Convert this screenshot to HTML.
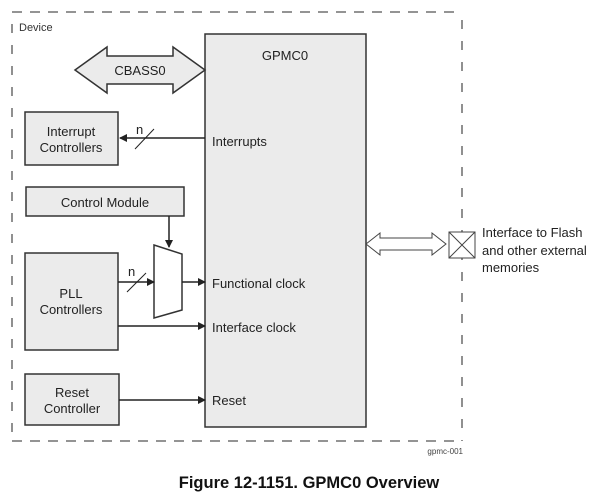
<!DOCTYPE html>
<html><head><style>body{margin:0;background:#fff}svg{display:block}</style></head><body>
<svg width="604" height="500" xmlns="http://www.w3.org/2000/svg" font-family="Liberation Sans, sans-serif">
<defs><marker id="a" markerWidth="8" markerHeight="8" refX="7" refY="4" orient="auto" markerUnits="userSpaceOnUse"><path d="M0,0 L8,4 L0,8 z" fill="#222"/></marker></defs>
<g stroke="#555" stroke-width="1.3" stroke-dasharray="10,8" fill="none">
<line x1="12" y1="12" x2="462" y2="12"/><line x1="12" y1="441" x2="462" y2="441"/>
<line x1="12" y1="24" x2="12" y2="441" stroke-dasharray="9,12"/><line x1="462" y1="20" x2="462" y2="441" stroke-dasharray="9,12"/>
</g>
<text x="19" y="31" font-size="11" fill="#333">Device</text>
<g stroke="#333" stroke-width="1.5" fill="#ebebeb">
<rect x="205" y="34" width="161" height="393"/>
<path d="M75,70 L107,47 L107,56 L173,56 L173,47 L205,70 L173,93 L173,84 L107,84 L107,93 Z"/>
<rect x="25" y="112" width="93" height="53"/>
<rect x="26" y="187" width="158" height="29"/>
<rect x="25" y="253" width="93" height="97"/>
<rect x="25" y="374" width="94" height="51"/>
<path d="M154,245 L182,254 L182,310 L154,318 Z" fill="#fff"/>
</g>
<g stroke="#222" stroke-width="1.5" fill="none">
<line x1="205" y1="138" x2="120" y2="138" marker-end="url(#a)"/>
<line x1="169" y1="216" x2="169" y2="247" marker-end="url(#a)"/>
<line x1="118" y1="282" x2="154" y2="282" marker-end="url(#a)"/>
<line x1="182" y1="282" x2="205" y2="282" marker-end="url(#a)"/>
<line x1="118" y1="326" x2="205" y2="326" marker-end="url(#a)"/>
<line x1="119" y1="400" x2="205" y2="400" marker-end="url(#a)"/>
<line x1="135" y1="149" x2="154" y2="129" stroke-width="1"/>
<line x1="127" y1="292" x2="146" y2="273" stroke-width="1"/>
</g>
<path d="M366,244 L380,233 L380,238 L432,238 L432,233 L446,244 L432,255 L432,250 L380,250 L380,255 Z" fill="#fff" stroke="#444" stroke-width="1"/>
<rect x="449" y="232" width="26" height="26" fill="#fff" stroke="#444" stroke-width="1"/>
<path d="M449,232 L475,258 M475,232 L449,258" stroke="#444" stroke-width="1"/>
<g font-size="13" fill="#222">
<text x="285" y="60" text-anchor="middle">GPMC0</text>
<text x="140" y="75" text-anchor="middle">CBASS0</text>
<text x="71" y="136" text-anchor="middle">Interrupt</text>
<text x="71" y="152" text-anchor="middle">Controllers</text>
<text x="105" y="207" text-anchor="middle">Control Module</text>
<text x="71" y="298" text-anchor="middle">PLL</text>
<text x="71" y="314" text-anchor="middle">Controllers</text>
<text x="72" y="397" text-anchor="middle">Reset</text>
<text x="72" y="413" text-anchor="middle">Controller</text>
<text x="212" y="146">Interrupts</text>
<text x="212" y="288">Functional clock</text>
<text x="212" y="332">Interface clock</text>
<text x="212" y="405">Reset</text>
<text x="136" y="134">n</text>
<text x="128" y="276">n</text>
<text x="482" y="237">Interface to Flash</text>
<text x="482" y="255">and other external</text>
<text x="482" y="272">memories</text>
</g>
<text x="463" y="454" font-size="8" fill="#444" text-anchor="end">gpmc-001</text>
<text x="309" y="488" font-size="16.5" font-weight="bold" fill="#111" text-anchor="middle">Figure 12-1151. GPMC0 Overview</text>
</svg>
</body></html>
